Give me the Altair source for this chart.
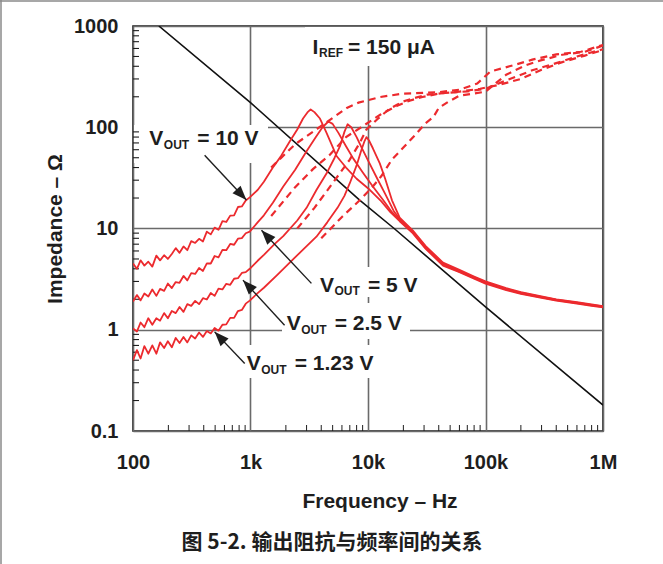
import altair as alt
import pandas as pd

# ---------------- data ----------------
freq_low = [100, 108, 116, 125, 135, 146, 158, 170, 184, 198, 214, 231, 249, 269, 290, 313,
            338, 365, 394, 425, 459, 495, 534, 577, 622, 672, 725, 782, 844, 911, 985]
z10_low = [4.5, 4.0, 4.85, 4.3, 4.7, 4.2, 5.4, 4.85, 5.45, 5.0, 5.6, 6.4, 5.75, 6.65, 6.1, 7.5,
           7.2, 7.9, 7.45, 9.3, 8.75, 10.2, 9.7, 11.8, 11.6, 13.4, 13.5, 16.3, 16.5, 18.9, 20.3]
z5_low = [1.9, 2.2, 1.95, 2.28, 2.13, 2.5, 2.16, 2.53, 2.42, 2.86, 2.58, 2.96, 2.91, 3.4, 3.07,
          3.62, 3.56, 4.07, 3.81, 4.52, 4.51, 5.35, 5.18, 6.14, 6.11, 7.04, 6.91, 7.93, 8.04,
          8.98, 9.3]
z25_low = [1.03, 0.96, 1.18, 1.06, 1.3, 1.12, 1.3, 1.23, 1.46, 1.3, 1.53, 1.46, 1.68, 1.5, 1.79,
           1.72, 1.93, 1.79, 2.05, 1.99, 2.31, 2.16, 2.55, 2.5, 2.84, 2.78, 3.19, 3.23, 3.64,
           3.71, 4.0]
z123_low = [0.5, 0.63, 0.52, 0.69, 0.58, 0.7, 0.58, 0.75, 0.66, 0.77, 0.67, 0.83, 0.74, 0.85,
            0.75, 0.88, 0.82, 0.94, 0.85, 0.97, 0.92, 1.04, 0.98, 1.12, 1.13, 1.31, 1.31, 1.53,
            1.57, 1.81, 1.94]

f10_mid = [1150, 1300, 1550, 1800, 2150, 2500, 2800, 3050, 3250, 3500, 3900, 4400, 5000,
           5400, 6500, 8000, 10000, 13000, 15500]
z10_mid = [24, 29, 40, 51, 72, 95, 122, 140, 150, 141, 122, 90, 64, 52, 40, 31, 25, 18.5, 14.5]
f5_mid = [1150, 1300, 1550, 1900, 2400, 3000, 3600, 4100, 4600, 5000, 5600, 6500, 7500,
          9000, 11000, 13500, 16000]
z5_mid = [11.5, 13.5, 18, 26, 38, 58, 80, 100, 114, 108, 88, 65, 49, 36, 26, 19, 14.5]
f25_mid = [1150, 1300, 1600, 1900, 2500, 3000, 3640, 4500, 5200, 5800, 6300, 6700, 7200,
           8000, 9000, 10000, 12000, 14000, 16500]
z25_mid = [4.8, 5.5, 7.0, 8.4, 12, 16, 24, 36, 50, 66, 90, 107, 100, 80, 60, 47, 31, 22, 15]
f123_mid = [1150, 1300, 1700, 2200, 2800, 3640, 4500, 5500, 6300, 7000, 8000, 8800, 9300,
            9700, 10200, 11000, 12600, 14000, 16000]
z123_mid = [2.3, 2.6, 3.5, 4.7, 6.2, 8.3, 11.5, 16, 21, 28, 42, 60, 72, 80, 74, 62, 44, 31, 19]

freq_tail = [18600, 24000, 31000, 43500, 60000, 80000, 100000, 150000, 200000, 300000,
             400000, 600000, 800000, 1000000]
z10_tail = [11.8, 9.0, 6.3, 4.3, 3.7, 3.2, 2.85, 2.46, 2.26, 2.06, 1.94, 1.81, 1.72, 1.66]
z5_tail = [12.1, 9.2, 6.4, 4.4, 3.75, 3.25, 2.9, 2.5, 2.29, 2.09, 1.96, 1.83, 1.74, 1.68]
z25_tail = [12.4, 9.4, 6.55, 4.5, 3.82, 3.3, 2.95, 2.54, 2.32, 2.11, 1.98, 1.85, 1.76, 1.7]
z123_tail = [12.8, 9.6, 6.7, 4.6, 3.9, 3.36, 3.0, 2.58, 2.35, 2.14, 2.0, 1.87, 1.78, 1.71]

# dashed traces
fd1 = [1500, 2400, 4000, 6600, 8300, 12700, 20000, 40000, 60000, 85000, 110000, 180000,
       250000, 400000, 650000, 1000000]
zd1 = [40, 68, 103, 155, 175, 199, 215, 222, 235, 270, 355, 415, 465, 525, 557, 650]
fd2 = [1500, 2400, 3400, 4700, 6500, 9100, 12700, 17700, 22600, 29000, 40000, 60000, 90000,
       130000, 200000, 300000, 450000, 700000, 1000000]
zd2 = [13.3, 25.6, 38.6, 53, 80, 103, 133, 163, 183, 199, 215, 225, 240, 262, 300, 370,
       440, 510, 580]
fd3 = [2500, 3500, 5000, 7000, 8500, 9700, 12000, 15000, 17500, 20000, 25000, 32000, 45000,
       70000, 100000, 150000, 250000, 400000, 600000, 1000000]
zd3 = [10, 16, 28, 48, 70, 95, 120, 150, 166, 180, 195, 210, 218, 226, 240, 290, 365, 430,
       500, 590]
fd4 = [4000, 6000, 8500, 11000, 13000, 16000, 20000, 25000, 31000, 36000, 40000, 48000,
       60000, 80000, 100000, 150000, 220000, 300000, 450000, 700000, 1000000]
zd4 = [8, 13, 19, 26, 33, 48, 63, 83, 110, 126, 155, 178, 205, 215, 225, 330, 410, 460,
       520, 556, 640]

# capacitor reference line
f_cap = [166, 1000, 8490, 16700, 100000, 1000000]
z_cap = [1000, 175, 19.1, 10, 1.68, 0.18]

x_ticks = [100, 1000, 10000, 100000, 1000000]
x_tick_labels = ["100", "1k", "10k", "100k", "1M"]
y_ticks = [0.1, 1, 10, 100, 1000]
y_tick_labels = ["0.1", "1", "10", "100", "1000"]
minor_mult = [2, 3, 4, 5, 6, 7, 8, 9]
x_minor = [m * d for d in [100, 1000, 10000, 100000] for m in minor_mult]
y_minor = [round(m * d, 3) for d in [0.1, 1, 10, 100] for m in minor_mult]

# arrows: (tail f, tail z, tip f, tip z)
arrow_tail_f = [407, 3300, 1950, 893]
arrow_tail_z = [53, 2.87, 1.11, 0.465]
arrow_tip_f = [923, 1240, 863, 495]
arrow_tip_z = [19.1, 9.6, 3.09, 0.953]

# ---------------- layout / style ----------------
W, H = 470, 405
PL, PT = 133, 26
RED = "#ec2a2e"
INK = "#1e1e1e"
FONT = "Liberation Sans"
TICK_LEN = 6

rows = []
def add(series, fs, zs, kind):
    for i, (f, z) in enumerate(zip(fs, zs)):
        rows.append({"series": series, "f": f, "z": z, "i": i, "kind": kind})

add("10V", freq_low + f10_mid + freq_tail, z10_low + z10_mid + z10_tail, "solid")
add("5V", freq_low + f5_mid + freq_tail, z5_low + z5_mid + z5_tail, "solid")
add("2.5V", freq_low + f25_mid + freq_tail, z25_low + z25_mid + z25_tail, "solid")
add("1.23V", freq_low + f123_mid + freq_tail, z123_low + z123_mid + z123_tail, "solid")
add("d1", fd1, zd1, "dash")
add("d2", fd2, zd2, "dash")
add("d3", fd3, zd3, "dash")
add("d4", fd4, zd4, "dash")
df = pd.DataFrame(rows)
cap = pd.DataFrame({"f": f_cap, "z": z_cap})

xscale = alt.Scale(type="log", domain=[100, 1000000], nice=False)
yscale = alt.Scale(type="log", domain=[0.1, 1000], nice=False)

x_label_expr = "{" + ",".join(f"'{v}':'{l}'" for v, l in zip(x_ticks, x_tick_labels)) + "}[datum.value]"
y_label_expr = "{" + ",".join(f"'{v}':'{l}'" for v, l in zip(y_ticks, y_tick_labels)) + "}[datum.value]"

xaxis = alt.Axis(values=x_ticks, labelExpr=x_label_expr, title=None, grid=True,
                 gridColor="#6a6a6a", gridWidth=1.6, ticks=False, domain=False,
                 labelFont=FONT, labelFontSize=20, labelFontWeight="bold",
                 labelColor=INK, labelPadding=21, labelFlush=False)
yaxis = alt.Axis(values=y_ticks, labelExpr=y_label_expr, title=None, grid=True,
                 gridColor="#6a6a6a", gridWidth=1.6, ticks=False, domain=False,
                 labelFont=FONT, labelFontSize=20, labelFontWeight="bold",
                 labelColor=INK, labelPadding=15, labelFlush=False)

X = alt.X("f:Q", scale=xscale, axis=xaxis)
Y = alt.Y("z:Q", scale=yscale, axis=yaxis)

one = pd.DataFrame({"a": [0]})

def box(x0, y0, x1, y1):
    return alt.Chart(one).mark_rect(color="white").encode(
        x=alt.value(x0 - PL), x2=alt.value(x1 - PL),
        y=alt.value(y0 - PT), y2=alt.value(y1 - PT))

def txt(s, x, y, size=21, align="left", baseline="alphabetic", angle=None, font=FONT):
    kw = dict(text=s, font=font, fontSize=size, fontWeight="bold", color=INK,
              align=align, baseline=baseline)
    if angle is not None:
        kw["angle"] = angle
    return alt.Chart(one).mark_text(**kw).encode(x=alt.value(x - PL), y=alt.value(y - PT))

def vlabel(rest, x, y):
    return [txt("V", x, y), txt("OUT", x + 14.5, y + 3.5, size=12), txt(rest, x + 48, y)]

layers = []
# white patches behind the annotation texts (hide grid lines there)
layers += [box(305, 27, 440, 66), box(134, 125, 268, 163), box(312, 267, 422, 297),
           box(282, 303, 410, 339), box(240, 345, 380, 378)]

# minor ticks (inward, on bottom and left edges)
xm = pd.DataFrame({"f": x_minor})
ym = pd.DataFrame({"z": y_minor})
layers.append(alt.Chart(xm).mark_tick(color=INK, thickness=1, size=TICK_LEN, orient="vertical",
                                      yOffset=-TICK_LEN / 2, opacity=1).encode(
    x=X, y=alt.value(H)))
# left-edge minor ticks drawn as short horizontal stroke symbols
layers.append(alt.Chart(ym).mark_point(shape="M0,0L2,0", filled=False, stroke=INK,
                                       strokeWidth=1.1, size=36, opacity=1).encode(
    y=Y, x=alt.value(0)))

# capacitor line
layers.append(alt.Chart(cap).mark_line(color="#111111", strokeWidth=1.6, clip=True).encode(x=X, y=Y))

# measured traces
layers.append(alt.Chart(df[df.kind == "solid"]).mark_line(
    color=RED, strokeWidth=1.8, clip=True, strokeJoin="round").encode(
    x=X, y=Y, detail="series:N", order="i:Q"))
layers.append(alt.Chart(df[df.kind == "dash"]).mark_line(
    color=RED, strokeWidth=2.2, strokeDash=[7, 5], clip=True).encode(
    x=X, y=Y, detail="series:N", order="i:Q"))

# arrows
arr = pd.DataFrame({"f": arrow_tail_f, "z": arrow_tail_z, "f2": arrow_tip_f, "z2": arrow_tip_z,
                    "ang": [137, 317, 317, 316.5]})
layers.append(alt.Chart(arr).mark_rule(color=INK, strokeWidth=1.4).encode(
    x=X, y=Y, x2="f2:Q", y2="z2:Q"))
layers.append(alt.Chart(arr).mark_point(shape="M0,0L0.8,2.1L-0.8,2.1Z", filled=True,
                                        color=INK, size=190, opacity=1).encode(
    x=alt.X("f2:Q", scale=xscale, axis=xaxis), y=alt.Y("z2:Q", scale=yscale, axis=yaxis),
    angle=alt.Angle("ang:Q", scale=None)))

# annotation texts
layers += [txt("I", 312.5, 53.5), txt("REF", 319, 57, size=12), txt("= 150 μA", 348, 53.5)]
layers += vlabel("= 10 V", 149.3, 145)
layers += vlabel("= 5 V", 320, 291.7)
layers += vlabel("= 2.5 V", 286.7, 330)
layers += vlabel("= 1.23 V", 246.7, 370)

# axis titles and caption
layers.append(txt("Frequency – Hz", 380, 508, align="center"))
layers.append(txt("Impedance – Ω", 61.5, 229, align="center", angle=270))
layers.append(txt("图 5-2. 输出阻抗与频率间的关系", 332, 549, size=21, align="center",
                  font="Noto Sans CJK SC"))

# outer frame (top and left edges visible in the reference)
layers.append(alt.Chart(one).mark_rule(color="#8a8a8a", strokeWidth=1.5).encode(
    x=alt.value(-PL), x2=alt.value(663 - PL), y=alt.value(1 - PT)))
layers.append(alt.Chart(one).mark_rule(color="#8a8a8a", strokeWidth=1.5).encode(
    x=alt.value(1 - PL), y=alt.value(-PT), y2=alt.value(564 - PT)))

chart = alt.layer(*layers).properties(
    width=W, height=H,
    padding={"left": PL, "top": PT, "right": 663 - PL - W, "bottom": 564 - PT - H},
    autosize=alt.AutoSizeParams(type="none"),
    background="white",
).configure_view(stroke="#1a1a1a", strokeWidth=1.6)

chart.save("out.html", embed_options={"renderer": "svg", "actions": False})
